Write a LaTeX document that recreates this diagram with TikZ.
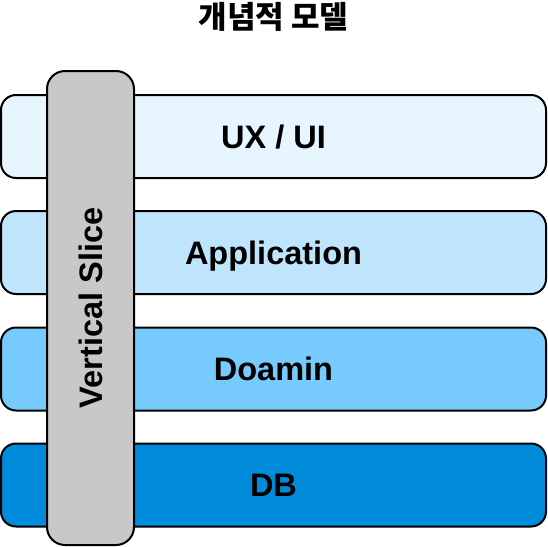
\documentclass[tikz,border=0pt]{standalone}
\usepackage{fontspec}
\setmainfont{Liberation Sans}
\newfontfamily\krfont{Noto Sans CJK KR}
\definecolor{uxblue}{HTML}{E7F5FE}
\definecolor{appblue}{HTML}{BFE5FD}
\definecolor{domblue}{HTML}{76CBFC}
\definecolor{dbblue}{HTML}{008CDB}
\definecolor{slicegray}{HTML}{C8C8C8}
\tikzset{
  layer/.style = {draw, line width = 2pt, rounded corners = 15pt, minimum width = 545pt,
    minimum height = 83pt, inner sep = 0pt, text height = 23.3pt, text depth = 0pt,
    font = \fontsize{32.5}{36}\selectfont\bfseries},
  slicebar/.style = {draw, line width = 2pt, fill = slicegray, rounded corners = 18pt,
    minimum width = 474pt, minimum height = 87pt, inner sep = 0pt, rotate = 90,
    text height = 23.3pt, text depth = 0pt, font = \fontsize{32.5}{36}\selectfont\bfseries}
}
\begin{document}
\begin{tikzpicture}[x = 1pt, y = -1pt]
        \useasboundingbox (0, 0) rectangle (548, 546);
        \fill[white] (0, 0) rectangle (548, 546);
        
        \node[font = \krfont\bfseries\fontsize{31}{34}\selectfont] (title) at (273.5, 17) {개념적 모델};
        
        \node[layer, fill = uxblue] (ux) at (273.5, 136.5) {UX / UI};
        \node[layer, fill = appblue] (app) at (273.5, 252.5) {Application};
        \node[layer, fill = domblue] (dom) at (273.5, 369) {Doamin};
        \node[layer, fill = dbblue] (db) at (273.5, 485) {DB};
        
        \node[slicebar] (slice) at (90.5, 308) {Vertical Slice};
      \end{tikzpicture}
\end{document}
